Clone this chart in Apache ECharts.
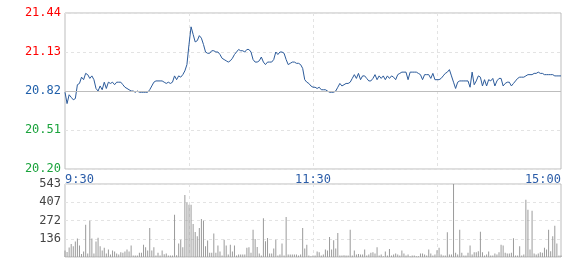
<!DOCTYPE html>
<html>
<head>
<meta charset="utf-8">
<script src="https://cdn.jsdelivr.net/npm/echarts@6/dist/echarts.min.js"></script>
<style>
html,body{margin:0;padding:0;background:#fff;}
#chart{width:580px;height:280px;}
</style>
</head>
<body>
<div id="chart"></div>
<script>
// ---- data ----
const prevClose = 20.82;
const priceTicks = ['20.20', '20.51', '20.82', '21.13', '21.44'];
const volTicks = ['', '136', '272', '407', '543'];
const timeTicks = { 0: '9:30', 120: '11:30', 240: '15:00' };

const prices = [
20.81, 20.72, 20.79, 20.77, 20.75, 20.76, 20.87, 20.88, 20.93, 20.91,
20.96, 20.95, 20.92, 20.94, 20.91, 20.84, 20.82, 20.86, 20.83, 20.89,
20.84, 20.89, 20.88, 20.89, 20.87, 20.89, 20.89, 20.89, 20.87, 20.85,
20.84, 20.83, 20.82, 20.82, 20.81, 20.82, 20.81, 20.81, 20.81, 20.81,
20.81, 20.83, 20.86, 20.89, 20.90, 20.90, 20.90, 20.90, 20.89, 20.88,
20.89, 20.88, 20.89, 20.94, 20.91, 20.94, 20.93, 20.95, 20.98, 21.03,
21.19, 21.33, 21.27, 21.21, 21.22, 21.26, 21.24, 21.19, 21.13, 21.12,
21.12, 21.14, 21.14, 21.13, 21.13, 21.11, 21.08, 21.07, 21.06, 21.05,
21.06, 21.08, 21.11, 21.13, 21.15, 21.14, 21.14, 21.13, 21.15, 21.15,
21.13, 21.07, 21.05, 21.05, 21.06, 21.09, 21.05, 21.03, 21.05, 21.05,
21.05, 21.07, 21.13, 21.11, 21.13, 21.13, 21.12, 21.07, 21.03, 21.04,
21.05, 21.05, 21.04, 21.04, 21.03, 21.00, 20.91, 20.89, 20.88, 20.86,
20.85, 20.85, 20.84, 20.85, 20.83, 20.83, 20.83, 20.82, 20.81, 20.81,
20.81, 20.82, 20.85, 20.88, 20.86, 20.87, 20.88, 20.88, 20.89, 20.92,
20.95, 20.92, 20.96, 20.91, 20.94, 20.94, 20.92, 20.90, 20.90, 20.92,
20.95, 20.91, 20.94, 20.92, 20.94, 20.91, 20.94, 20.92, 20.94, 20.93,
20.91, 20.95, 20.96, 20.97, 20.97, 20.97, 20.91, 20.97, 20.97, 20.97,
20.97, 20.96, 20.95, 20.91, 20.95, 20.95, 20.95, 20.92, 20.96, 20.91,
20.91, 20.91, 20.92, 20.94, 20.96, 20.97, 20.99, 20.94, 20.89, 20.84,
20.89, 20.90, 20.90, 20.90, 20.90, 20.90, 20.85, 20.97, 20.87, 20.90,
20.94, 20.93, 20.86, 20.91, 20.86, 20.91, 20.90, 20.92, 20.86, 20.90,
20.92, 20.92, 20.86, 20.88, 20.89, 20.89, 20.86, 20.88, 20.90, 20.92,
20.93, 20.93, 20.93, 20.94, 20.95, 20.95, 20.95, 20.96, 20.96, 20.97,
20.96, 20.96, 20.95, 20.95, 20.95, 20.95, 20.95, 20.94, 20.94, 20.94,
20.94
];

const volumes = [
48, 38, 70, 97, 80, 115, 137, 85, 23, 41,
240, 26, 270, 137, 26, 115, 144, 80, 48, 68,
26, 55, 18, 48, 41, 26, 18, 36, 31, 41,
55, 41, 85, 11, 11, 11, 31, 31, 92, 73,
48, 215, 48, 73, 11, 31, 11, 48, 21, 26,
11, 11, 11, 314, 13, 100, 129, 73, 462, 405,
388, 388, 245, 186, 154, 215, 282, 270, 80, 122,
31, 31, 174, 31, 85, 41, 11, 129, 85, 18,
92, 41, 85, 11, 18, 18, 18, 18, 68, 73,
31, 203, 134, 75, 26, 11, 289, 117, 142, 26,
26, 63, 129, 11, 18, 100, 11, 297, 18, 18,
18, 18, 18, 11, 18, 215, 63, 92, 11, 5,
11, 11, 41, 36, 11, 18, 55, 48, 149, 55,
124, 63, 178, 11, 11, 13, 11, 11, 203, 11,
48, 18, 23, 18, 18, 55, 11, 18, 31, 36,
26, 73, 11, 18, 6, 41, 11, 60, 11, 18,
26, 18, 11, 48, 26, 11, 18, 6, 11, 11,
6, 6, 26, 26, 18, 11, 55, 26, 11, 18,
50, 68, 18, 11, 11, 184, 18, 18, 543, 31,
18, 203, 31, 11, 11, 31, 85, 18, 36, 36,
43, 188, 36, 11, 18, 41, 11, 11, 26, 18,
36, 92, 85, 31, 26, 26, 31, 139, 11, 11,
80, 11, 18, 425, 351, 55, 344, 26, 18, 26,
36, 31, 68, 55, 203, 43, 154, 233, 100, 11,
11
];

// minute categories (9:30-11:30, 13:01-15:00)
const minutes = [];
for (let i = 0; i < prices.length; i++) {
  let t = i <= 120 ? 9 * 60 + 30 + i : 13 * 60 + (i - 120);
  const h = Math.floor(t / 60), m = t % 60;
  minutes.push(h + ':' + (m < 10 ? '0' + m : m));
}

const FONT = 'DejaVu Sans Mono';
const gridLineColor = '#e3e3e3';
const borderColor = '#bdbdbd';
const priceColors = ['#1aa33c', '#1aa33c', '#1f5faa', '#ff0000', '#ff0000'];

const chart = echarts.init(document.getElementById('chart'), null, { renderer: 'canvas' });
chart.setOption({
  animation: false,
  backgroundColor: '#fff',
  grid: [
    { left: 65, top: 13, width: 496, height: 156, show: true, borderColor: borderColor, borderWidth: 1, backgroundColor: 'transparent' },
    { left: 65, top: 184, width: 496, height: 73, show: true, borderColor: borderColor, borderWidth: 1, backgroundColor: 'transparent' }
  ],
  xAxis: [
    {
      type: 'category', gridIndex: 0, data: minutes, boundaryGap: false,
      axisLine: { show: false }, axisTick: { show: false },
      axisLabel: {
        show: true, margin: 5, fontFamily: FONT, fontSize: 12, color: '#2a5ca8',
        interval: (idx) => timeTicks[idx] !== undefined,
        formatter: (v, idx) => timeTicks[idx] !== undefined ? timeTicks[idx] : '',
        alignMinLabel: 'left', alignMaxLabel: 'right'
      },
      splitLine: { show: true, interval: (idx) => idx === 60 || idx === 120 || idx === 180,
        lineStyle: { color: gridLineColor, type: [3, 3], width: 1 } }
    },
    {
      type: 'category', gridIndex: 1, data: minutes, boundaryGap: false,
      axisLine: { show: false }, axisTick: { show: false }, axisLabel: { show: false },
      splitLine: { show: true, interval: (idx) => idx === 60 || idx === 120 || idx === 180,
        lineStyle: { color: gridLineColor, type: [3, 3], width: 1 } }
    }
  ],
  yAxis: [
    {
      type: 'value', gridIndex: 0, min: 20.20, max: 21.44, interval: 0.31,
      axisLine: { show: false }, axisTick: { show: false },
      axisLabel: {
        margin: 4, fontFamily: FONT, fontSize: 12, padding: [4, 0, 0, 0],
        formatter: (v) => priceTicks[Math.round((v - 20.20) / 0.31)],
        color: (v) => priceColors[Math.round((parseFloat(v) - 20.20) / 0.31)] || '#1f5faa'
      },
      splitLine: { show: true, lineStyle: { color: gridLineColor, type: [3, 3], width: 1 } }
    },
    {
      type: 'value', gridIndex: 1, min: 0, max: 543, interval: 135.75,
      axisLine: { show: false }, axisTick: { show: false },
      axisLabel: {
        margin: 4, fontFamily: FONT, fontSize: 12, color: '#444', padding: [4, 0, 0, 0],
        formatter: (v) => volTicks[Math.round(v / 135.75)]
      },
      splitLine: { show: true, lineStyle: { color: gridLineColor, type: [3, 3], width: 1 } }
    }
  ],
  series: [
    {
      type: 'line', xAxisIndex: 0, yAxisIndex: 0, data: prices,
      showSymbol: false, symbol: 'none',
      lineStyle: { color: '#2c5b9b', width: 1 },
      markLine: {
        silent: true, symbol: 'none', label: { show: false },
        lineStyle: { color: borderColor, type: 'solid', width: 1 },
        data: [{ yAxis: prevClose }]
      },
      z: 3
    },
    {
      type: 'bar', xAxisIndex: 1, yAxisIndex: 1, data: volumes,
      barWidth: 1, itemStyle: { color: '#9a9a9a' }
    }
  ]
});
</script>
</body>
</html>
